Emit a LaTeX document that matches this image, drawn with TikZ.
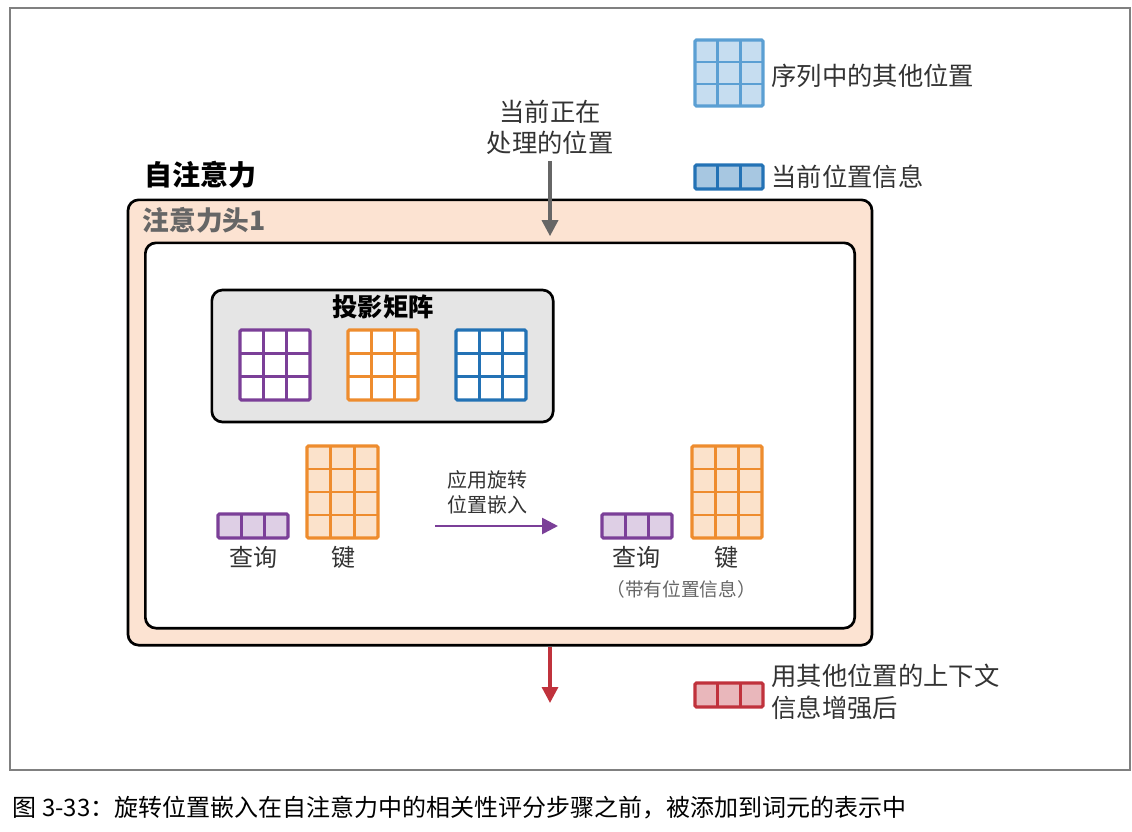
\documentclass[tikz,border=0pt]{standalone}
\usepackage{fontspec}
\setmainfont{Noto Sans CJK SC}
\usetikzlibrary{arrows.meta, positioning, calc}
\definecolor{qpurple}{HTML}{7B3F98}
\definecolor{korange}{HTML}{EE8C2E}
\definecolor{vblue}{HTML}{2372B5}
\definecolor{lblue}{HTML}{5B9FD3}
\definecolor{rred}{HTML}{C0323C}
\definecolor{headfill}{HTML}{FCE3D2}
\tikzstyle{box} = [rectangle, draw, rounded corners=8pt, line width=2pt, inner sep=0pt]
\tikzstyle{txt} = [font=\fontsize{18}{22}\selectfont, text=black!80, align=center, inner sep=1pt]
\tikzstyle{flow} = [line width=2.5pt, -{Triangle[length=12pt,width=12pt]}]
% grid: name, x1, y1, x2, y2, cols, rows, colour, fill
\newcommand{\cellgrid}[9]{%
	\fill[#9] (#2,#3) rectangle (#4,#5);
	\foreach \i in {1,...,#6} {\pgfmathsetmacro\gx{#2+(#4-#2)*\i/#6}
		\ifnum\i<#6 \draw[#8, line width=2pt] (\gx,#3) -- (\gx,#5);\fi}
	\foreach \j in {1,...,#7} {\pgfmathsetmacro\gy{#3+(#5-#3)*\j/#7}
		\ifnum\j<#7 \draw[#8, line width=2pt] (#2,\gy) -- (#4,\gy);\fi}
	\draw[#8, line width=2.4pt, rounded corners=1pt] (#2,#3) rectangle (#4,#5);
	\coordinate (#1-w) at (#2,{(#3+#5)/2});
	\coordinate (#1-e) at (#4,{(#3+#5)/2});
}

\begin{document}
\begin{tikzpicture}[x=0.75pt, y=-0.75pt]
	\useasboundingbox (0,0) rectangle (1132,832);
	\draw[black!50, line width=0.8pt] (10,8) rectangle (1130,770);

	% Boxes
	\node (attn) [anchor=west, font=\fontsize{21}{25}\selectfont\bfseries] at (140,175) {自注意力};
	\node (head) [box, fill=headfill, minimum width=558pt, minimum height=334pt] at (500,422.5) {};
	\node (headlbl) [anchor=west, font=\fontsize{20}{24}\selectfont\bfseries, text=black!60] at (138,220) {注意力头1};
	\node (inner) [box, fill=white, minimum width=532pt, minimum height=289pt] at (500,435.5) {};
	\node (proj) [box, fill=black!10, minimum width=256pt, minimum height=99pt] at (382.5,356) {};
	\node (projlbl) [font=\fontsize{19}{23}\selectfont\bfseries] at (383,307) {投影矩阵};

	% Projection matrices
	\cellgrid{wq}{240}{330}{310}{400}{3}{3}{qpurple}{white}
	\cellgrid{wk}{348}{330}{418}{400}{3}{3}{korange}{white}
	\cellgrid{wv}{456}{330}{526}{400}{3}{3}{vblue}{white}

	% Query and key before
	\cellgrid{q1}{218}{514}{288}{538}{3}{1}{qpurple}{qpurple!25}
	\cellgrid{k1}{307}{446}{378}{538}{3}{4}{korange}{korange!25}
	\node (q1lbl) [txt] at (253,557) {查询};
	\node (k1lbl) [txt] at (343,557) {键};

	% Query and key after
	\cellgrid{q2}{602}{514}{672}{538}{3}{1}{qpurple}{qpurple!25}
	\cellgrid{k2}{692}{446}{762}{538}{3}{4}{korange}{korange!25}
	\node (q2lbl) [txt] at (636,557) {查询};
	\node (k2lbl) [txt] at (726,557) {键};
	\node (note) [font=\fontsize{14}{17}\selectfont, text=black!60] at (681,589) {（带有位置信息）};

	\node (rope) [txt, font=\fontsize{15}{19}\selectfont] at (487,492) {应用旋转\\位置嵌入};
	\draw[flow, qpurple, line width=2pt, shorten <=43pt, shorten >=33pt] (k1-e |- q2-w) -- (q2-w);

	% Current position
	\node (cur) [txt, font=\fontsize{19}{23}\selectfont] at (550,127) {当前正在\\处理的位置};
	\draw[flow, black!60, shorten <=4pt, shorten >=4pt] (cur.south) -- (cur.south |- inner.north);
	\coordinate (out) at (550,703);
	\draw[flow, rred] (cur.south |- head.south) -- (out);

	% Legend
	\cellgrid{lo}{695}{40}{763}{106}{3}{3}{lblue}{lblue!35}
	\node (lolbl) [anchor=west, txt, font=\fontsize{19}{23}\selectfont] at (770,76) {序列中的其他位置};
	\cellgrid{lc}{695}{165}{763}{189}{3}{1}{vblue}{vblue!40}
	\node (lclbl) [anchor=west, txt, font=\fontsize{19}{23}\selectfont] at (770,177) {当前位置信息};
	\cellgrid{lr}{695}{683}{763}{707}{3}{1}{rred}{rred!35}
	\node (lrlbl) [anchor=west, txt, align=left, font=\fontsize{19}{24}\selectfont] at (770,692) {用其他位置的上下文\\信息增强后};

	% Caption
	\node (caption) [anchor=west, font=\fontsize{18}{22}\selectfont] at (8,808) {图 3-33：旋转位置嵌入在自注意力中的相关性评分步骤之前，被添加到词元的表示中};
\end{tikzpicture}
\end{document}
